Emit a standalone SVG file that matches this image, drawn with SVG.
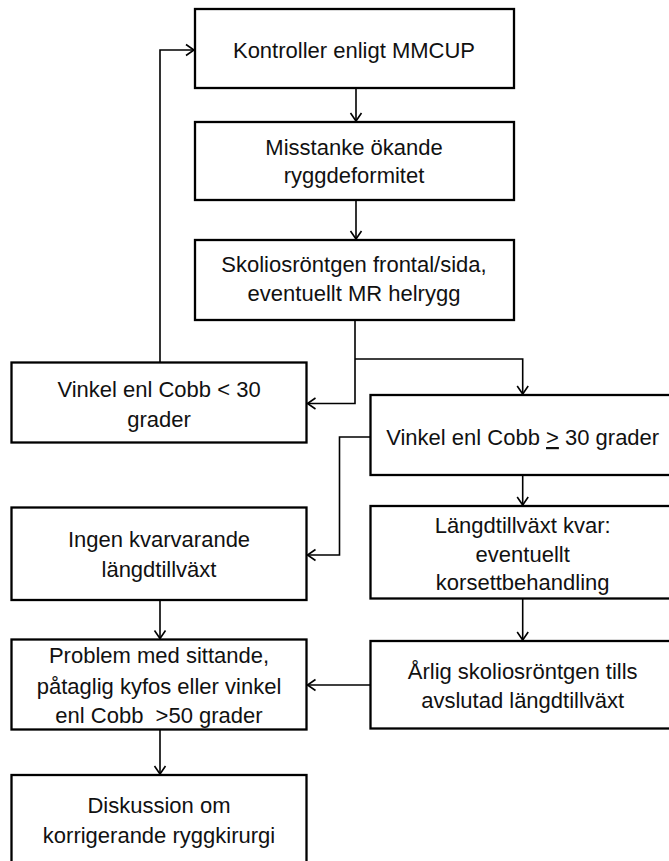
<svg xmlns="http://www.w3.org/2000/svg" width="669" height="861" viewBox="0 0 669 861">
  <defs>
    <marker id="arr" markerUnits="userSpaceOnUse" markerWidth="12" markerHeight="14" refX="9" refY="6" orient="auto" overflow="visible">
      <path d="M1,0.5 L9,6 L1,11.5" fill="none" stroke="#000" stroke-width="1.6"/>
    </marker>
  </defs>
  <style>
    rect.box { fill: #fff; stroke: #000; stroke-width: 2.3; }
    text { font-family: "Liberation Sans", Arial, sans-serif; font-size: 22px; fill: #111; text-anchor: middle; }
    .conn path { fill: none; stroke: #000; stroke-width: 1.6; marker-end: url(#arr); }
  </style>
  <rect width="669" height="861" fill="#fff"/>

  <g class="conn" id="connectors">
    <path d="M160,362.5 V50 H194"/>
    <path d="M356,88 V121"/>
    <path d="M356,200 V239"/>
    <path d="M355,320 V403.5 H307.5"/>
    <path d="M355,359 H522.7 V394"/>
    <path d="M370.5,437 H339.5 V555 H307.5"/>
    <path d="M522.7,475 V505"/>
    <path d="M522.7,598.5 V640"/>
    <path d="M370.5,685 H307.5"/>
    <path d="M160,600 V638.5"/>
    <path d="M160,729.5 V774"/>
  </g>

  <g id="n1">
    <rect class="box" x="195" y="9" width="319" height="79"/>
    <text x="354" y="58">Kontroller enligt MMCUP</text>
  </g>
  <g id="n2">
    <rect class="box" x="195" y="122" width="319" height="78"/>
    <text x="354" y="155">Misstanke ökande</text>
    <text x="354" y="183">ryggdeformitet</text>
  </g>
  <g id="n3">
    <rect class="box" x="195" y="240" width="319" height="80"/>
    <text x="354" y="272">Skoliosröntgen frontal/sida,</text>
    <text x="354" y="301">eventuellt MR helrygg</text>
  </g>
  <g id="n4">
    <rect class="box" x="11.5" y="362.5" width="295" height="80"/>
    <text x="159" y="397">Vinkel enl Cobb &lt; 30</text>
    <text x="159" y="427">grader</text>
  </g>
  <g id="n5">
    <rect class="box" x="370.5" y="395" width="305" height="80"/>
    <text x="522.7" y="445">Vinkel enl Cobb <tspan text-decoration="underline">&gt;</tspan> 30 grader</text>
  </g>
  <g id="n6">
    <rect class="box" x="11.5" y="507.5" width="295" height="92.5"/>
    <text x="159" y="547">Ingen kvarvarande</text>
    <text x="159" y="577">längdtillväxt</text>
  </g>
  <g id="n7">
    <rect class="box" x="370.5" y="506" width="305" height="92.5"/>
    <text x="522.7" y="533">Längdtillväxt kvar:</text>
    <text x="522.7" y="562">eventuellt</text>
    <text x="522.7" y="590">korsettbehandling</text>
  </g>
  <g id="n8">
    <rect class="box" x="11.5" y="639.5" width="295" height="90"/>
    <text x="159" y="663">Problem med sittande,</text>
    <text x="159" y="694">påtaglig kyfos eller vinkel</text>
    <text x="159" y="723" style="white-space:pre">enl Cobb  &gt;50 grader</text>
  </g>
  <g id="n9">
    <rect class="box" x="370.5" y="641" width="305" height="87.5"/>
    <text x="522.7" y="679">Årlig skoliosröntgen tills</text>
    <text x="522.7" y="708">avslutad längdtillväxt</text>
  </g>
  <g id="n10">
    <rect class="box" x="11.5" y="775" width="295" height="92"/>
    <text x="159" y="813">Diskussion om</text>
    <text x="159" y="843">korrigerande ryggkirurgi</text>
  </g>
</svg>
